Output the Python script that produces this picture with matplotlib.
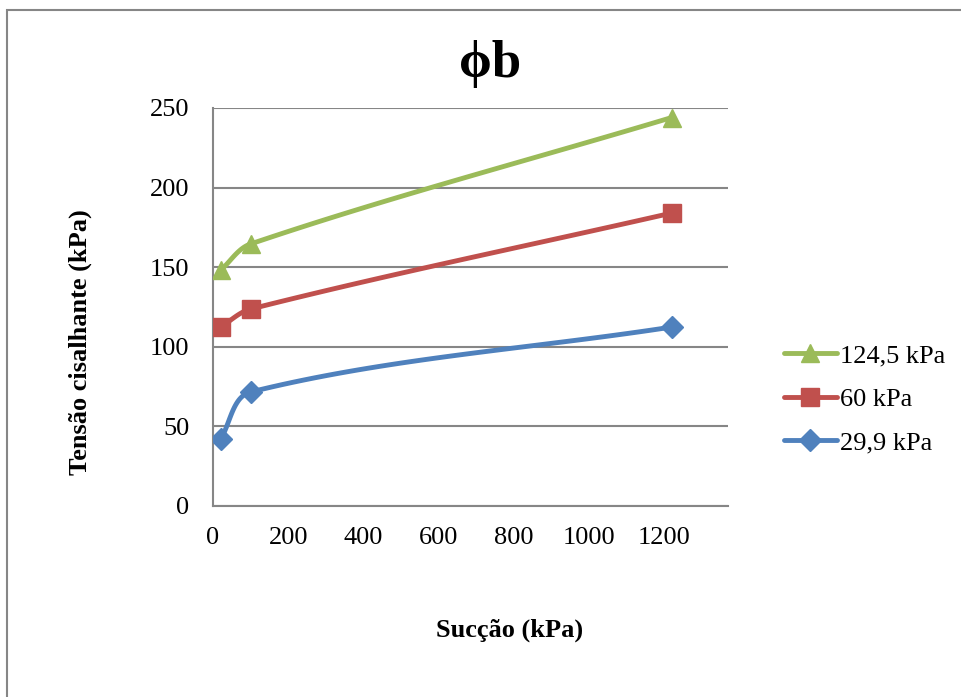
import numpy as np
import matplotlib.pyplot as plt
from matplotlib.patches import Rectangle

# values
succao = [20, 100, 1220]
s_124 = [148, 164.6, 244]
s_60 = [112.4, 123.7, 184]
s_29 = [42, 71.6, 112.4]
names = ["124,5 kPa", "60 kPa", "29,9 kPa"]
colors = ["#9BBB59", "#C0504D", "#4F81BD"]
markers = ["^", "s", "D"]
xticks = [0, 200, 400, 600, 800, 1000, 1200]
yticks = [0, 50, 100, 150, 200, 250]


def smooth(ax, x, y, n=40):
    # Excel-like smoothed line, built in display space
    pts = ax.transData.transform(np.column_stack([x, y]))
    k = len(pts)
    tang = []
    for i in range(k):
        d = pts[min(i + 1, k - 1)] - pts[max(i - 1, 0)]
        tang.append(d / np.hypot(*d))
    t = np.linspace(0, 1, n)[:, None]
    out = []
    for i in range(k - 1):
        p0, p3 = pts[i], pts[i + 1]
        L = np.hypot(*(p3 - p0)) / 3
        p1 = p0 + tang[i] * L
        p2 = p3 - tang[i + 1] * L
        b = (1 - t) ** 3 * p0 + 3 * (1 - t) ** 2 * t * p1 + 3 * (1 - t) * t ** 2 * p2 + t ** 3 * p3
        out.append(b)
    out = ax.transData.inverted().transform(np.vstack(out))
    return out[:, 0], out[:, 1]


plt.rcParams['font.family'] = ['Liberation Serif', 'DejaVu Serif']

fig = plt.figure(figsize=(9.62, 6.97), dpi=100)
fig.patches.append(Rectangle((7 / 962, -0.1), 1.2, 1 - 10 / 697 + 0.1,
                             transform=fig.transFigure, fill=False,
                             edgecolor="#868686", linewidth=1.5))

ax = fig.add_axes([213 / 962, 1 - 506 / 697, (728 - 213) / 962, (506 - 108) / 697])
ax.set_xlim(0, 1370)
ax.set_ylim(0, 250)

handles = []
for ys, c, m, nm in zip([s_124, s_60, s_29], colors, markers, names):
    ms = 11 if m == "D" else 13
    sx, sy = smooth(ax, succao, ys)
    ax.plot(sx, sy, color=c, linewidth=3.5, solid_capstyle="round", zorder=3)
    ax.plot(succao, ys, linestyle="none", marker=m, color=c, markersize=ms, zorder=4)
    h, = ax.plot([], [], color=c, linewidth=3.5, marker=m, markersize=ms, solid_capstyle="round")
    handles.append(h)

ax.set_xticks(xticks)
ax.set_yticks(yticks)
ax.grid(axis="y", color="#868686", linewidth=1.5)
ax.set_axisbelow(True)
for s in ["top", "right"]:
    ax.spines[s].set_visible(False)
for s in ["left", "bottom"]:
    ax.spines[s].set_color("#868686")
    ax.spines[s].set_linewidth(1.5)
ax.tick_params(length=0, labelsize=19, pad=17)
ax.tick_params(axis="x", pad=15)

fig.text(490 / 962, 1 - 64 / 697, "ϕb", fontsize=38, fontweight="bold", ha="center", va="center")
fig.text(510 / 962, 1 - 630 / 697, "Sucção (kPa)", fontsize=19, fontweight="bold", ha="center", va="center")
fig.text(80 / 962, 1 - 342 / 697, "Tensão cisalhante (kPa)", fontsize=19, fontweight="bold",
         ha="center", va="center", rotation=90)

fig.legend(handles, names, loc="center left", bbox_to_anchor=(760 / 962, 1 - 399 / 697),
           frameon=False, fontsize=19, handlelength=2.0, handletextpad=0.15, labelspacing=0.75)

fig.savefig("out.png", dpi=100)
